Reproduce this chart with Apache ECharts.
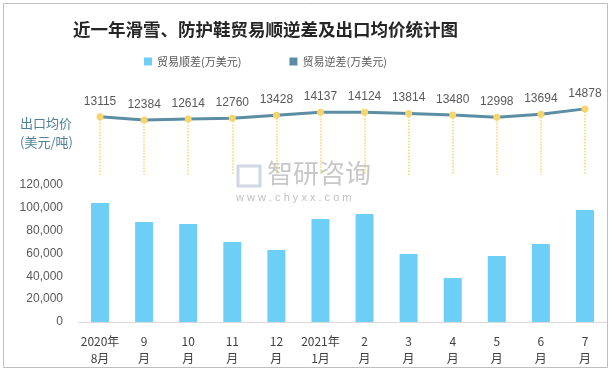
<!DOCTYPE html>
<html><head><meta charset="utf-8">
<script src="https://cdn.jsdelivr.net/npm/echarts@6/dist/echarts.min.js"></script>
<style>html,body{margin:0;padding:0;background:#fff}#c{width:612px;height:371px}</style>
</head><body><div id="c"></div>
<script>
const categories = ['2020年\n8月','9\n月','10\n月','11\n月','12\n月','2021年\n1月','2\n月','3\n月','4\n月','5\n月','6\n月','7\n月'];
const surplus = [104200, 87600, 85800, 70100, 63100, 90200, 94600, 59600, 38500, 57800, 68300, 98100];
const deficit = [];
const exportPrice = [13115, 12384, 12614, 12760, 13428, 14137, 14124, 13814, 13480, 12998, 13694, 14878];
const yTicks = [0, 120000, 20000];

const chart = echarts.init(document.getElementById('c'), null, {renderer:'canvas'});
const dropLines = exportPrice.map((v,i)=>[{xAxis:i, yAxis:v},{xAxis:i, yAxis:0}]);
chart.setOption({
  animation:false,
  backgroundColor:'#fff',
  title:{text:'近一年滑雪、防护鞋贸易顺逆差及出口均价统计图', left:68, top:16,
    textStyle:{fontFamily:'Noto Sans CJK SC', fontWeight:'bold', fontSize:17.5, color:'#262626'}},
  legend:{left:139, top:51, itemWidth:8, itemHeight:8, itemGap:48, icon:'rect',
    textStyle:{fontFamily:'Noto Sans CJK SC', fontSize:11, color:'#595959'},
    data:['贸易顺差(万美元)','贸易逆差(万美元)']},
  grid:[
    {left:78, right:5, top:185, bottom:49},
    {left:78, right:5, top:95, height:80}
  ],
  xAxis:[
    {type:'category', gridIndex:0, data:categories,
     axisLine:{lineStyle:{color:'#d9d9d9'}}, axisTick:{show:false},
     axisLabel:{interval:0, color:'#404040', fontFamily:'Noto Sans CJK SC', fontSize:12, lineHeight:17, margin:11}},
    {type:'category', gridIndex:1, data:categories, show:false}
  ],
  yAxis:[
    {type:'value', gridIndex:0, min:yTicks[0], max:yTicks[1], interval:yTicks[2],
     splitLine:{show:false}, axisLine:{show:false}, axisTick:{show:false},
     axisLabel:{color:'#595959', fontFamily:'Liberation Sans', fontSize:12, margin:15,
       formatter:v=>v.toLocaleString('en-US')}},
    {type:'value', gridIndex:1, min:0, max:18000, show:false}
  ],
  series:[
    {name:'贸易顺差(万美元)', type:'bar', xAxisIndex:0, yAxisIndex:0, data:surplus, barWidth:18,
     itemStyle:{color:'#6dcff6'}},
    {name:'贸易逆差(万美元)', type:'line', xAxisIndex:1, yAxisIndex:1, data:deficit,
     itemStyle:{color:'#5b8ea5'}},
    {name:'出口均价', type:'line', xAxisIndex:1, yAxisIndex:1, data:exportPrice,
     symbol:'circle', symbolSize:7, lineStyle:{color:'#5b8ea5', width:3},
     itemStyle:{color:'#f9d46b'}, z:5,
     label:{show:true, position:'top', distance:6, color:'#595959', fontFamily:'Liberation Sans', fontSize:12},
     markLine:{silent:true, symbol:'none', label:{show:false},
       lineStyle:{color:'#f9d46b', type:'dotted', width:1.5}, data:dropLines}}
  ],
  graphic:[
    {type:'rect', shape:{x:3.5, y:3.5, width:604, height:364}, style:{fill:'none', stroke:'#bfbfbf', lineWidth:1}, silent:true},
    {type:'text', left:20, top:114, style:{text:'出口均价\n(美元/吨)', fill:'#4e8098', font:'13px "Noto Sans CJK SC"', lineHeight:19}},
    {type:'text', left:267, top:160, style:{text:'智研咨询', fill:'#c8c8c8', font:'26px "Noto Sans CJK SC"'}, z:-1},
    {type:'text', left:236, top:192, style:{text:'w w w . c h y x x . c o m', fill:'#c0c0c0', font:'11px "Liberation Sans"'}, z:-1},
    {type:'rect', shape:{x:238, y:166, width:22, height:20}, style:{fill:'none', stroke:'#cfd8e3', lineWidth:3}, z:-1}
  ]
});
</script></body></html>
